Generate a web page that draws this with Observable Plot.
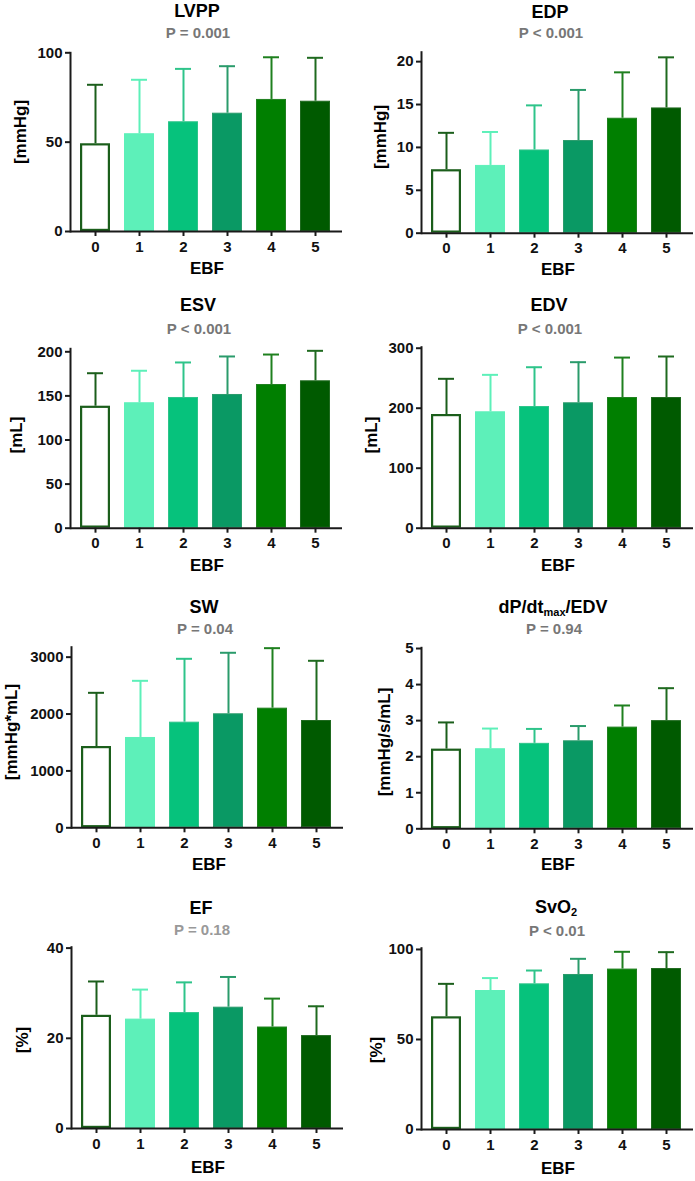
<!DOCTYPE html>
<html>
<head>
<meta charset="utf-8">
<script src="https://cdn.jsdelivr.net/npm/d3@7"></script>
<script src="https://cdn.jsdelivr.net/npm/@observablehq/plot@0.6"></script>
<style>
  body { margin: 0; background: #fff; }
  #root { position: relative; width: 695px; height: 1181px; overflow: hidden; font-family: "Liberation Sans", Arial, Helvetica, sans-serif; }
  .holder { position: absolute; width: 347px; }
  .holder svg { display: block; overflow: visible; }
  .c { position: absolute; transform: translate(-50%, -50%); white-space: nowrap; line-height: 1; font-weight: bold; }
  .title { font-size: 18px; color: #000; }
  .title sub { font-size: 11px; vertical-align: -3px; line-height: 0; }
  .pval { font-size: 15px; color: #777; }
  .ylab { font-size: 17px; color: #000; transform: translate(-50%, -50%) rotate(-90deg); }
  .xlab { font-size: 17px; color: #000; }
</style>
</head>
<body>
<div id="root"></div>
<script>
// ---------- data ----------
const groups = ["0", "1", "2", "3", "4", "5"];

const lvppMean = [49.1, 54.7, 61.4, 66.2, 73.9, 72.9];
const lvppSD   = [33.0, 30.2, 29.6, 26.3, 23.6, 24.3];
const lvppTicks = [0, 50, 100];

const edpMean = [7.4, 7.9, 9.7, 10.8, 13.4, 14.6];
const edpSD   = [4.3, 3.9, 5.2, 5.9, 5.35, 5.9];
const edpTicks = [0, 5, 10, 15, 20];

const esvMean = [138.3, 142.2, 148.2, 151.6, 162.9, 167.1];
const esvSD   = [37.4, 36.3, 39.7, 43.1, 34.0, 34.0];
const esvTicks = [0, 50, 100, 150, 200];

const edvMean = [189.5, 194.0, 202.8, 209.0, 217.8, 217.8];
const edvSD   = [59.5, 61.6, 65.5, 67.7, 66.6, 68.4];
const edvTicks = [0, 100, 200, 300];

const swMean = [1429, 1588, 1857, 2004, 2103, 1886];
const swSD   = [944, 996, 1114, 1073, 1055, 1050];
const swTicks = [0, 1000, 2000, 3000];

const dpMean = [2.21, 2.22, 2.37, 2.44, 2.82, 3.00];
const dpSD   = [0.74, 0.56, 0.40, 0.41, 0.60, 0.90];
const dpTicks = [0, 1, 2, 3, 4, 5];

const efMean = [25.1, 24.25, 25.7, 26.9, 22.5, 20.6];
const efSD   = [7.5, 6.55, 6.7, 6.7, 6.3, 6.5];
const efTicks = [0, 20, 40];

const svo2Mean = [62.6, 77.2, 80.9, 86.1, 89.1, 89.4];
const svo2SD   = [18.3, 6.9, 7.4, 8.7, 9.6, 9.1];
const svo2Ticks = [0, 50, 100];

const panelTitles = ["LVPP", "EDP", "ESV", "EDV", "SW", "dP/dt<sub>max</sub>/EDV", "EF", "SvO<sub>2</sub>"];
const panelP = ["P = 0.001", "P < 0.001", "P < 0.001", "P < 0.001", "P = 0.04", "P = 0.94", "P = 0.18", "P < 0.01"];
const panelUnits = ["[mmHg]", "[mmHg]", "[mL]", "[mL]", "[mmHg*mL]", "[mmHg/s/mL]", "[%]", "[%]"];
const panelMeans = [lvppMean, edpMean, esvMean, edvMean, swMean, dpMean, efMean, svo2Mean];
const panelSDs = [lvppSD, edpSD, esvSD, edvSD, swSD, dpSD, efSD, svo2SD];
const panelTicks = [lvppTicks, edpTicks, esvTicks, edvTicks, swTicks, dpTicks, efTicks, svo2Ticks];
const panelYmax = [100, 21.1, 203.4, 301.7, 3175, 5.02, 40.2, 100.7];
const xLabel = "EBF";

// ---------- styles ----------
const barFills = ["#ffffff", "#5df0b9", "#06c27c", "#0a9964", "#007f00", "#005a00"];
const errColors = ["#1b5e1b", "#5df0b9", "#2ec48a", "#2a9b6b", "#1f801f", "#1f6a1f"];
const pColors = ["#777", "#777", "#777", "#777", "#777", "#777", "#999", "#777"];
const FONT = '"Liberation Sans", Arial, Helvetica, sans-serif';

// ---------- layout (absolute pixel positions) ----------
const layout = [
  {left: 0,   top: 0,   axisTop: 52.3,  y0: 231,    ml: 70, mr: 5, tx: 197, ty: 11,   py: 32,    ux: 20,  uy: 132,  ex: 207, ey: 268},
  {left: 347, top: 0,   axisTop: 51.7,  y0: 232.7,  ml: 74, mr: 1, tx: 550, ty: 11.5, py: 32,    ux: 380, uy: 137,  ex: 558, ey: 269},
  {left: 0,   top: 290, axisTop: 348.3, y0: 527.7,  ml: 70, mr: 5, tx: 198, ty: 305,  py: 327.7, ux: 16,  uy: 435,  ex: 207, ey: 565},
  {left: 347, top: 290, axisTop: 346.7, y0: 527.7,  ml: 74, mr: 1, tx: 549, ty: 305,  py: 327.7, ux: 371, uy: 435,  ex: 558, ey: 565},
  {left: 0,   top: 590, axisTop: 646.7, y0: 827.3,  ml: 71, mr: 4, tx: 204, ty: 606.7,py: 627.7, ux: 11,  uy: 732,  ex: 209, ey: 864},
  {left: 347, top: 590, axisTop: 647.3, y0: 828.3,  ml: 74, mr: 1, tx: 553, ty: 606.7,py: 628.3, ux: 384, uy: 742,  ex: 558, ey: 864},
  {left: 0,   top: 890, axisTop: 946.7, y0: 1128,   ml: 71, mr: 4, tx: 201, ty: 908,  py: 929.3, ux: 22,  uy: 1040, ex: 208, ey: 1167},
  {left: 347, top: 890, axisTop: 947.7, y0: 1129,   ml: 74, mr: 1, tx: 556, ty: 907,  py: 930,   ux: 376, uy: 1050, ex: 558, ey: 1168}
];

const root = document.getElementById("root");

function addText(cls, html, x, y, color) {
  const d = document.createElement("div");
  d.className = "c " + cls;
  d.innerHTML = html;
  d.style.left = x + "px";
  d.style.top = y + "px";
  if (color) d.style.color = color;
  root.appendChild(d);
}

panelTitles.forEach((title, k) => {
  const L = layout[k];
  const rows = groups.map((g, i) => ({
    g, idx: i, m: panelMeans[k][i], top: panelMeans[k][i] + panelSDs[k][i]
  }));
  const height = (L.y0 - L.top) + 45;
  const chart = Plot.plot({
    width: 347,
    height,
    marginLeft: L.ml,
    marginRight: L.mr,
    marginTop: L.axisTop - L.top,
    marginBottom: 45,
    style: {fontFamily: FONT, fontSize: "15px", fontWeight: "bold", color: "#111", background: "transparent", overflow: "visible"},
    x: {domain: groups, range: [L.ml, L.ml + 270], paddingInner: 0.31, paddingOuter: 0.16, label: null},
    y: {domain: [0, panelYmax[k]], label: null},
    color: {type: "identity"},
    marks: [
      Plot.barY(rows.filter(d => d.idx > 0), {
        x: "g", y: "m",
        fill: d => barFills[d.idx],
        stroke: d => errColors[d.idx],
        strokeWidth: 1, inset: 0.5
      }),
      Plot.barY(rows.filter(d => d.idx === 0), {
        x: "g", y: "m",
        fill: barFills[0], stroke: errColors[0], strokeWidth: 2.2, inset: 1.1
      }),
      Plot.ruleX(rows, {x: "g", y1: "m", y2: "top", stroke: d => errColors[d.idx], strokeWidth: 2}),
      Plot.tickY(rows, {x: "g", y: "top", stroke: d => errColors[d.idx], strokeWidth: 2, insetLeft: 7, insetRight: 7}),
      Plot.frame({anchor: "left", stroke: "#1a1a1a", strokeWidth: 2}),
      Plot.ruleY([0], {stroke: "#1a1a1a", strokeWidth: 2}),
      Plot.axisY({ticks: panelTicks[k], tickFormat: d3.format("d"), tickSize: 5, tickPadding: 3, stroke: "#1a1a1a", strokeWidth: 2, label: null, fontSize: 15, fontWeight: "bold", fontFamily: FONT, fill: "#111"}),
      Plot.axisX({tickSize: 5, tickPadding: 4.5, stroke: "#1a1a1a", strokeWidth: 2, label: null, fontSize: 15, fontWeight: "bold", fontFamily: FONT, fill: "#111"})
    ]
  });
  const holder = document.createElement("div");
  holder.className = "holder";
  holder.style.left = L.left + "px";
  holder.style.top = L.top + "px";
  holder.appendChild(chart);
  root.appendChild(holder);

  addText("title", title, L.tx, L.ty);
  addText("pval", panelP[k], L.tx + 1, L.py, pColors[k]);
  addText("ylab", panelUnits[k], L.ux, L.uy);
  addText("xlab", xLabel, L.ex, L.ey);
});
</script>
</body>
</html>
